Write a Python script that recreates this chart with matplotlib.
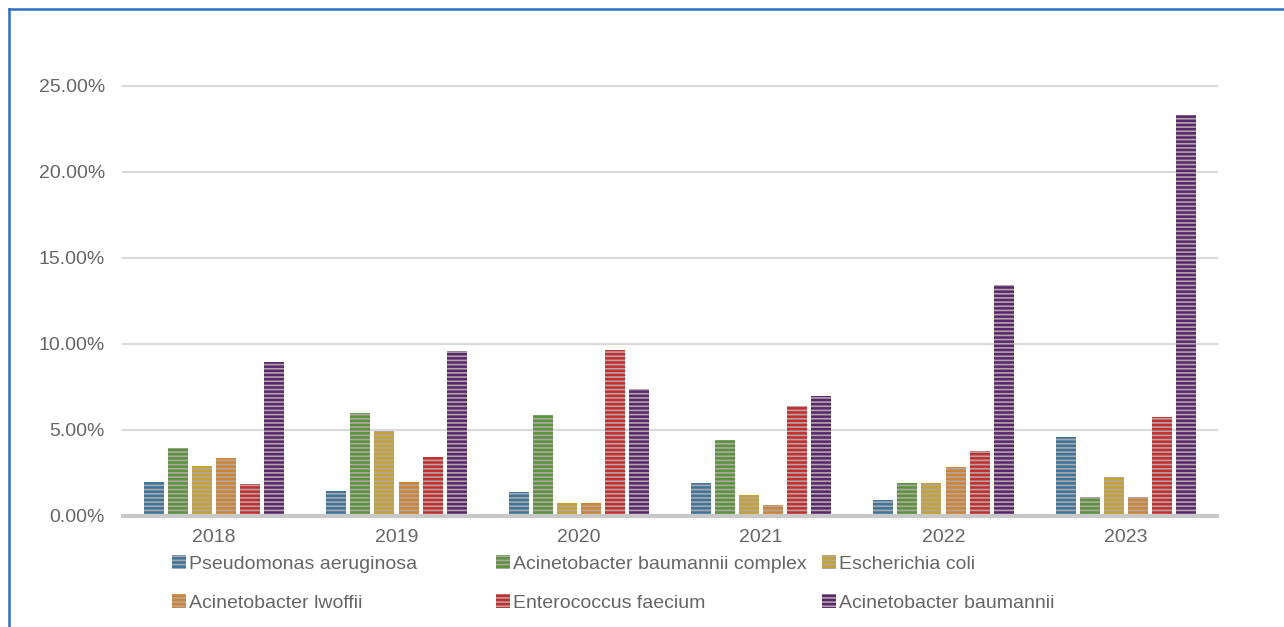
import numpy as np
import matplotlib
matplotlib.use("Agg")
import matplotlib.pyplot as plt
from matplotlib.lines import Line2D
from matplotlib.ticker import FuncFormatter

plt.rcParams['font.family'] = ['Liberation Sans', 'DejaVu Sans']
plt.rcParams['hatch.linewidth'] = 1.2

years = ['2018', '2019', '2020', '2021', '2022', '2023']
species = ['Pseudomonas aeruginosa', 'Acinetobacter baumannii complex', 'Escherichia coli',
           'Acinetobacter lwoffii', 'Enterococcus faecium', 'Acinetobacter baumannii']
# percent of isolates per year
pseudomonas = [2.0, 1.45, 1.4, 1.92, 0.93, 4.57]
ab_complex = [3.95, 6.0, 5.87, 4.42, 1.94, 1.09]
e_coli = [2.9, 4.94, 0.76, 1.22, 1.94, 2.29]
lwoffii = [3.37, 1.98, 0.76, 0.64, 2.87, 1.09]
faecium = [1.86, 3.43, 9.65, 6.4, 3.8, 5.77]
baumannii = [8.95, 9.6, 7.38, 6.98, 13.45, 23.3]
series = [pseudomonas, ab_complex, e_coli, lwoffii, faecium, baumannii]

colors = ['#37779f', '#57953a', '#c4a42c', '#cf8530', '#c82c2c', '#57276f']
stripe = '#b3a5a5'
txt = '#666666'

fig = plt.figure(figsize=(12.84, 6.27), dpi=100)
ax = fig.add_axes([123 / 1284, 1 - 516 / 627, (1217 - 123) / 1284, (516 - 86) / 627])

x = np.arange(len(years))
step = 0.132
width = 0.11
handles = []
for i, (vals, c) in enumerate(zip(series, colors)):
    b = ax.bar(x + (i - 2.5) * step, np.array(vals) / 100, width, color=c,
               edgecolor=stripe, linewidth=0, hatch='----', zorder=3, label=species[i])
    handles.append(b)

ax.set_xlim(-0.5, 5.5)
ax.set_ylim(0, 0.25)
ax.set_yticks(np.arange(0, 0.26, 0.05))
ax.yaxis.set_major_formatter(FuncFormatter(lambda v, p: f'{v * 100:.2f}%'))
ax.set_xticks(x)
ax.set_xticklabels(years)
ax.tick_params(axis='both', length=0, labelsize=14, colors=txt)
ax.tick_params(axis='y', pad=13)
ax.tick_params(axis='x', pad=9)
ax.grid(axis='y', color='#d9d9d9', linewidth=1.5, zorder=0)
for g in ax.get_ygridlines():
    g.set_clip_on(False)
for s in ['top', 'right', 'left']:
    ax.spines[s].set_visible(False)
ax.spines['bottom'].set_color('#c8c8c8')
ax.spines['bottom'].set_linewidth(3)
ax.spines['bottom'].set_zorder(4)

# legend in three fixed columns, two rows
col_x = [172, 496, 822]
for k in range(3):
    hs = [handles[k], handles[k + 3]]
    labs = [species[k], species[k + 3]]
    leg = fig.legend(hs, labs, loc='upper left', bbox_to_anchor=(col_x[k] / 1284, 1 - 555 / 627),
                     frameon=False, fontsize=14, handlelength=0.7, handleheight=0.7,
                     handletextpad=0.15, labelspacing=1.1, borderpad=0, borderaxespad=0)
    for t in leg.get_texts():
        t.set_color(txt)

# blue frame around the panel
fig.add_artist(Line2D([9 / 1284, 9 / 1284], [0, 1 - 9 / 627], color='#2f6fc0', linewidth=1.8))
fig.add_artist(Line2D([9 / 1284, 1], [1 - 9 / 627, 1 - 9 / 627], color='#2f6fc0', linewidth=1.8))

fig.savefig('out.png', dpi=100)
